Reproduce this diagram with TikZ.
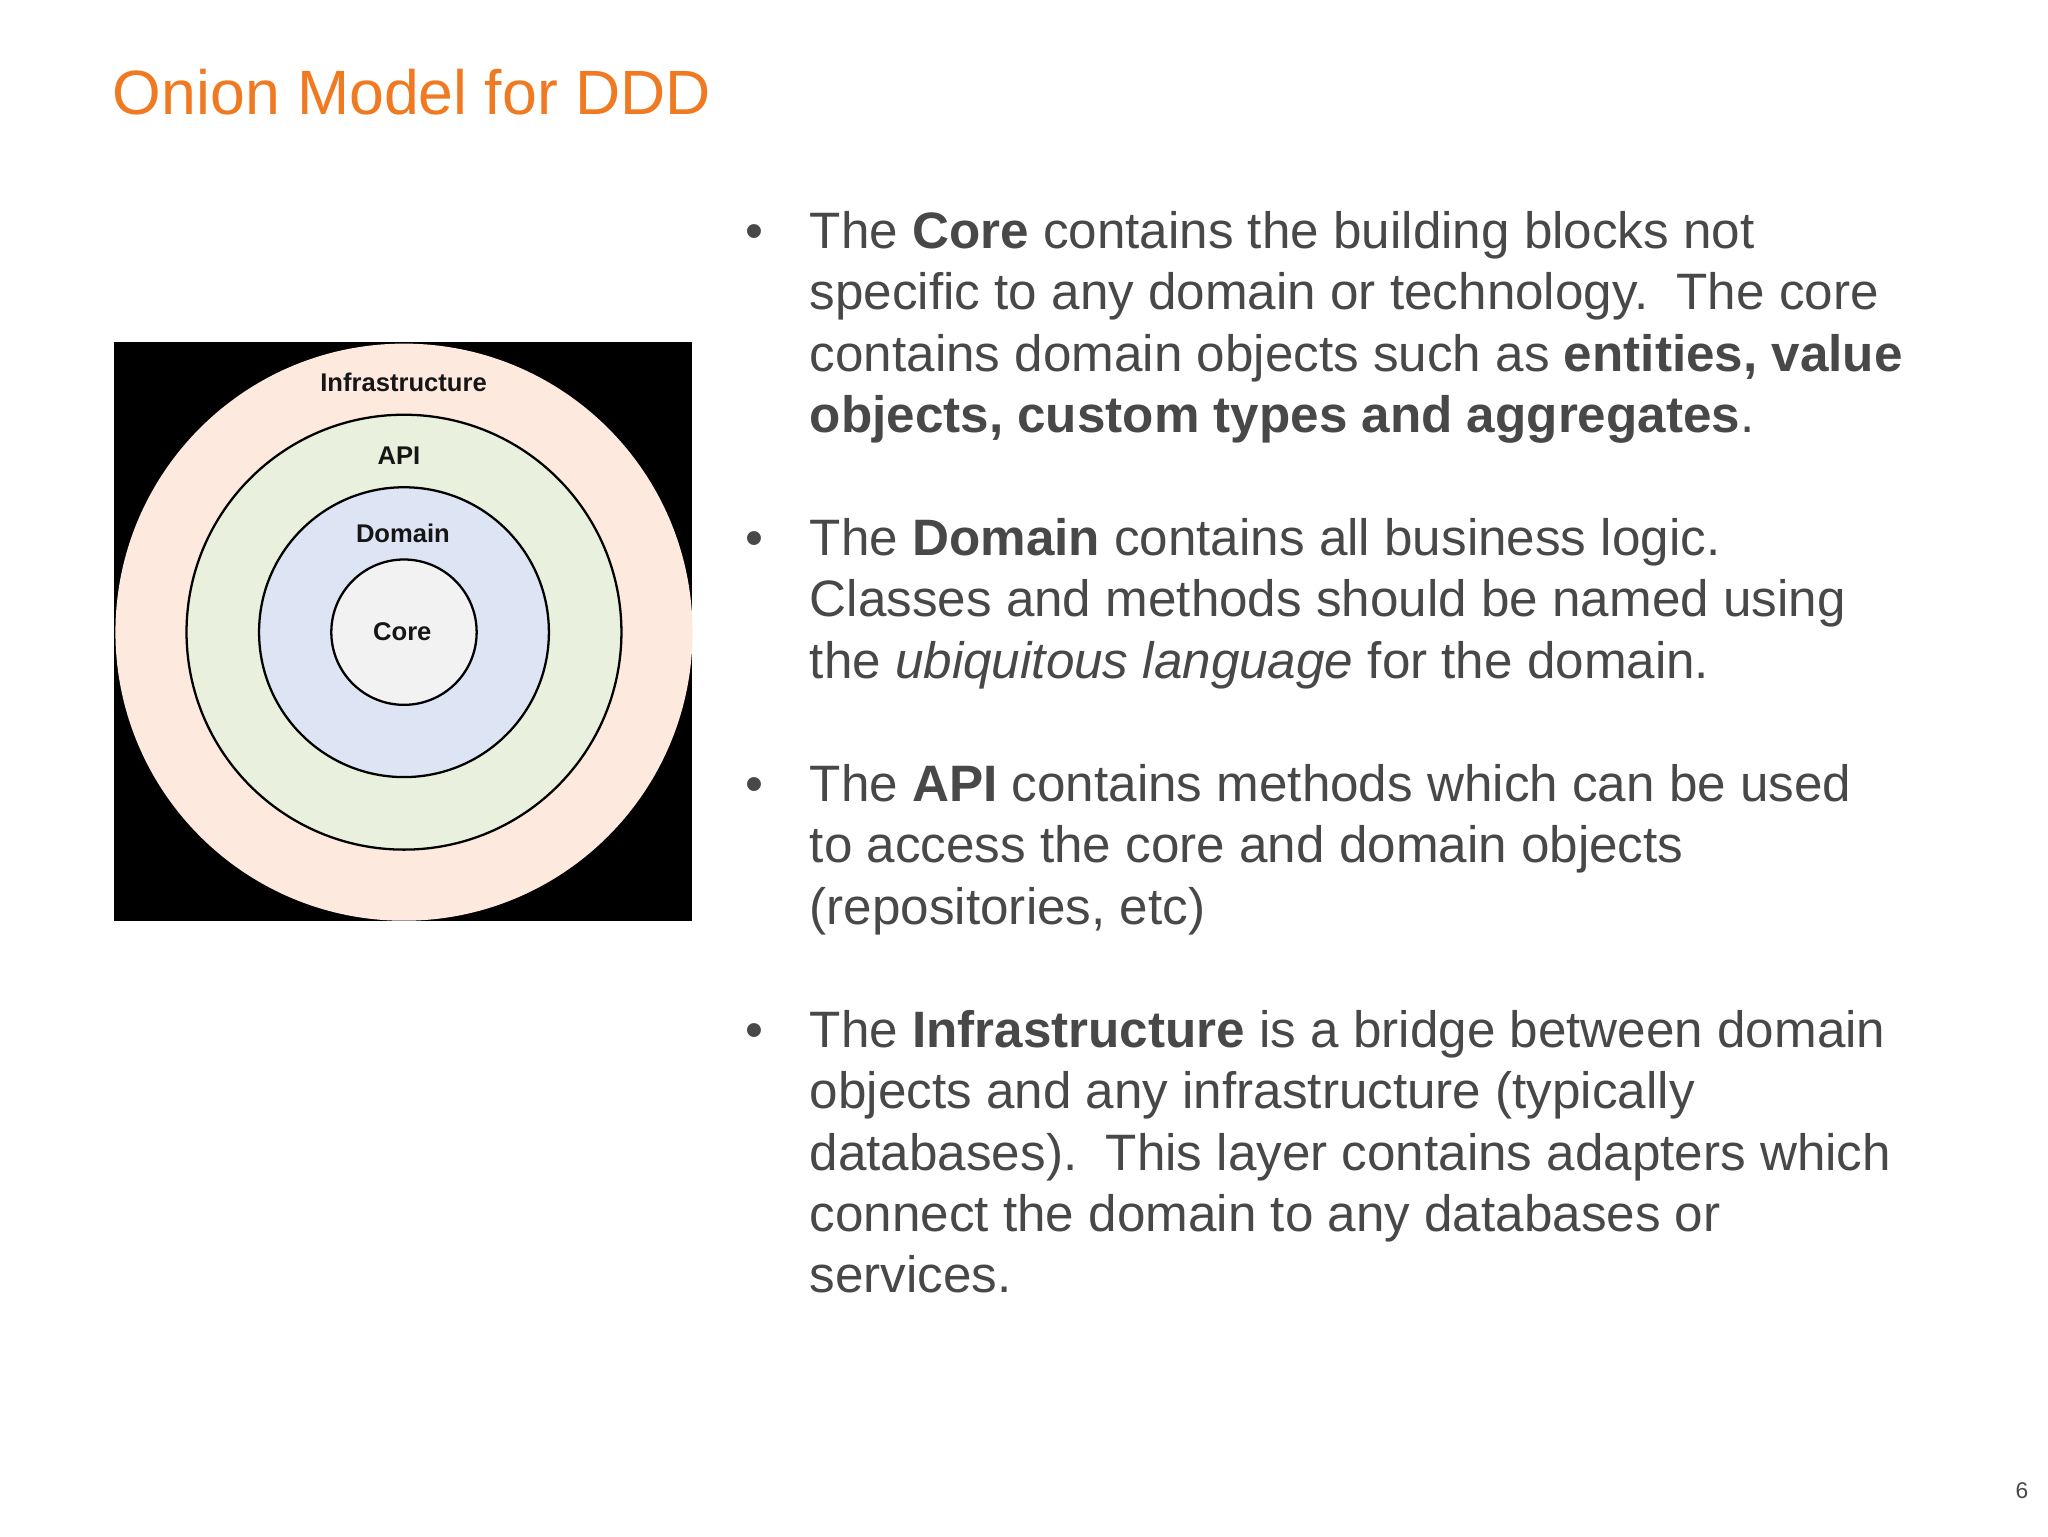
\documentclass[tikz,border=0pt]{standalone}
\usepackage{fontspec}
\setmainfont{Liberation Sans}
\definecolor{titleorange}{HTML}{F07A22}
\definecolor{bodygray}{HTML}{484848}
\definecolor{infrafill}{HTML}{FDE9DD}
\definecolor{apifill}{HTML}{E9F0DD}
\definecolor{domainfill}{HTML}{DDE4F3}
\definecolor{corefill}{HTML}{F2F2F2}
\definecolor{labelblack}{HTML}{161616}
\begin{document}
\begin{tikzpicture}[x=0.4592pt,y=-0.4592pt,
  bodyline/.style={anchor=base west,inner sep=0pt,outer sep=0pt,font=\fontsize{18}{21.6}\selectfont,text=bodygray},
  bulletmark/.style={anchor=base west,inner sep=0pt,outer sep=0pt,font=\fontsize{18}{21.6}\selectfont,text=bodygray},
  ring/.style={circle,inner sep=0pt,outer sep=0pt,draw=black,line width=0.8pt},
  ringlabel/.style={inner sep=0pt,font=\fontsize{9}{10.8}\selectfont\bfseries,text=labelblack}]
\useasboundingbox[fill=white] (0,0) rectangle (1568,1176);
% title
\node[anchor=base west,inner sep=0pt,font=\fontsize{22}{26.4}\selectfont,text=titleorange] (title) at (86,88) {Onion Model for DDD};
% onion diagram
\fill[black] (87,262) rectangle (530,705);
\node[circle,inner sep=0pt,fill=infrafill,minimum size=202.9pt] (infra) at (309.3,484) {};
\node[ring,fill=apifill,minimum size=152.9pt] (api) at (309.3,484) {};
\node[ring,fill=domainfill,minimum size=101.9pt] (domain) at (309.3,484) {};
\node[ring,fill=corefill,minimum size=51.1pt] (core) at (309.3,484) {};
\node[ringlabel] (linfra) at (309,293) {Infrastructure};
\node[ringlabel] (lapi) at (305.5,349) {API};
\node[ringlabel] (ldomain) at (308.5,408) {Domain};
\node[ringlabel] (lcore) at (308,484) {Core};
% bullets
\node[bulletmark] (b1) at (571,190) {•};
\node[bulletmark] (b2) at (571,425.3) {•};
\node[bulletmark] (b3) at (571,613.5) {•};
\node[bulletmark] (b4) at (571,801.7) {•};
% paragraph 1
\node[bodyline] (p1a) at (620,190) {The \textbf{Core} contains the building blocks not};
\node[bodyline] (p1b) at (620,237) {specific to any domain or technology.\ \ The core};
\node[bodyline] (p1c) at (620,284.1) {contains domain objects such as \textbf{entities, value}};
\node[bodyline] (p1d) at (620,331.2) {\textbf{objects, custom types and aggregates}.};
% paragraph 2
\node[bodyline] (p2a) at (620,425.3) {The \textbf{Domain} contains all business logic.};
\node[bodyline] (p2b) at (620,472.3) {Classes and methods should be named using};
\node[bodyline] (p2c) at (620,519.4) {the \textit{ubiquitous language} for the domain.};
% paragraph 3
\node[bodyline] (p3a) at (620,613.5) {The \textbf{API} contains methods which can be used};
\node[bodyline] (p3b) at (620,660.5) {to access the core and domain objects};
\node[bodyline] (p3c) at (620,707.6) {(repositories, etc)};
% paragraph 4
\node[bodyline] (p4a) at (620,801.7) {The \textbf{Infrastructure} is a bridge between domain};
\node[bodyline] (p4b) at (620,848.7) {objects and any infrastructure (typically};
\node[bodyline] (p4c) at (620,895.8) {databases).\ \ This layer contains adapters which};
\node[bodyline] (p4d) at (620,942.8) {connect the domain to any databases or};
\node[bodyline] (p4e) at (620,989.9) {services.};
% page number
\node[inner sep=0pt,font=\fontsize{8}{9.6}\selectfont,text=bodygray] (pagenum) at (1548,1141) {6};
\end{tikzpicture}
\end{document}
